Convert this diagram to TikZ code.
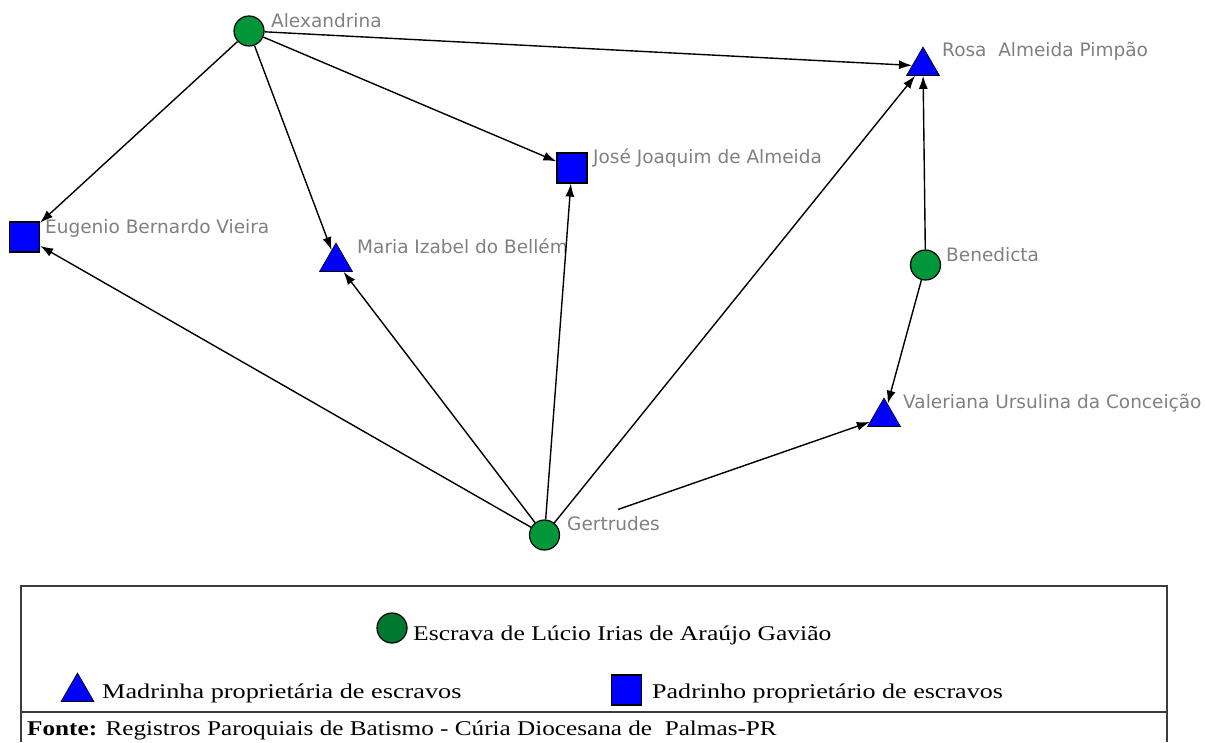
\documentclass[tikz,border=0pt]{standalone}
\usepackage{fontspec}
\setmainfont{Liberation Serif}
\newfontfamily\labelfont{DejaVu Sans}
\usetikzlibrary{arrows.meta,shapes.geometric}
\definecolor{nodegreen}{RGB}{0,150,57}
\definecolor{nodeblue}{RGB}{0,0,255}
\definecolor{labelgray}{RGB}{128,128,128}
\definecolor{framegray}{RGB}{60,60,60}

\tikzset{
  slave/.style={circle, fill=nodegreen, draw=black, line width=1.2pt, minimum size=30pt, inner sep=0pt},
  godmother/.style={regular polygon, regular polygon sides=3, fill=nodeblue, draw=black, line width=0.6pt, minimum size=38pt, inner sep=0pt},
  godfather/.style={rectangle, fill=nodeblue, draw=black, line width=1.2pt, minimum size=30pt, inner sep=0pt},
  nlabel/.style={anchor=base west, inner sep=0pt, text=labelgray, font=\labelfont\fontsize{18.5}{18.5}\selectfont},
  godlink/.style={draw=black, line width=1.4pt, -{Latex[length=13pt,width=9pt]}},
  legtext/.style={anchor=base west, inner sep=0pt, font=\fontsize{21}{21}\selectfont},
  frame/.style={draw=framegray, line width=2pt},
}

\begin{document}
\begin{tikzpicture}[x=1pt,y=-1pt]
  \useasboundingbox (0,0) rectangle (1205,742);

  % people
  \node[slave]     (alex) at (249,31)    {};
  \node[slave]     (bene) at (925.5,265) {};
  \node[slave]     (gert) at (544.5,535) {};
  \node[godmother] (rosa) at (923,66)    {};
  \node[godmother] (mari) at (336,262)   {};
  \node[godmother] (vale) at (884,417)   {};
  \node[godfather] (euge) at (24.5,237)  {};
  \node[godfather] (jose) at (572,168)   {};

  % names
  \node[nlabel] (alexname) at (271,27)  {Alexandrina};
  \node[nlabel] (rosaname) at (942,56)  {Rosa\ \ Almeida Pimpão};
  \node[nlabel] (eugename) at (45,233)  {Eugenio Bernardo Vieira};
  \node[nlabel] (mariname) at (357,253) {Maria Izabel do Bellém};
  \node[nlabel] (josename) at (593,163) {José Joaquim de Almeida};
  \node[nlabel] (benename) at (946,261) {Benedicta};
  \node[nlabel] (valename) at (903,408) {Valeriana Ursulina da Conceição};
  \node[nlabel] (gertname) at (567,530) {Gertrudes};

  % godparent ties
  \draw[godlink] (alex) -- (rosa);
  \draw[godlink] (alex) -- (euge);
  \draw[godlink] (alex) -- (mari);
  \draw[godlink] (alex) -- (jose);
  \draw[godlink] (gert) -- (euge);
  \draw[godlink] (gert) -- (mari);
  \draw[godlink] (gert) -- (jose);
  \draw[godlink] (gert) -- (rosa);
  \draw[godlink, shorten <=78pt] (gert.center) -- (vale);
  \draw[godlink] (bene) -- (rosa);
  \draw[godlink] (bene) -- (vale);

  % legend frame
  \draw[frame] (21,742) -- (21,586) -- (1167,586) -- (1167,742);
  \draw[frame] (21,712) -- (1167,712);

  % legend entries
  \node[slave, fill=nodegreen!80!black, minimum width=30pt, minimum height=30pt] (legslave) at (392,628) {};
  \node[legtext] (legslavetext) at (413,640) {\scalebox{1.22}[1]{Escrava de Lúcio Irias de Araújo Gavião}};
  \node[godmother] (legmother) at (77.5,692) {};
  \node[legtext] (legmothertext) at (102,698) {\scalebox{1.25}[1]{Madrinha proprietária de escravos}};
  \node[godfather] (legfather) at (626.5,690) {};
  \node[legtext] (legfathertext) at (652,698) {\scalebox{1.24}[1]{Padrinho proprietário de escravos}};
  \node[legtext] (source) at (27,735) {\scalebox{1.2}[1]{\textbf{Fonte:} Registros Paroquiais de Batismo - Cúria Diocesana de\ \ Palmas-PR}};
\end{tikzpicture}
\end{document}
